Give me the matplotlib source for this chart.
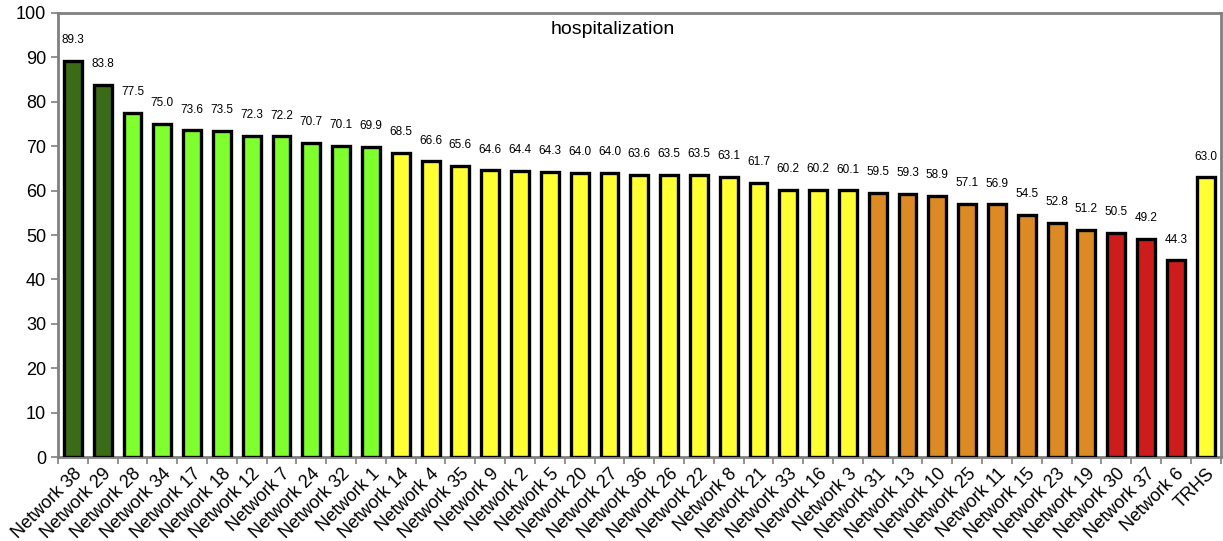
import matplotlib
matplotlib.use("Agg")
import matplotlib.pyplot as plt
import numpy as np

plt.rcParams['font.family'] = ['Liberation Sans', 'DejaVu Sans']

networks = ["Network 38", "Network 29", "Network 28", "Network 34", "Network 17",
            "Network 18", "Network 12", "Network 7", "Network 24", "Network 32",
            "Network 1", "Network 14", "Network 4", "Network 35", "Network 9",
            "Network 2", "Network 5", "Network 20", "Network 27", "Network 36",
            "Network 26", "Network 22", "Network 8", "Network 21", "Network 33",
            "Network 16", "Network 3", "Network 31", "Network 13", "Network 10",
            "Network 25", "Network 11", "Network 15", "Network 23", "Network 19",
            "Network 30", "Network 37", "Network 6", "TRHS"]
values = [89.3, 83.8, 77.5, 75.0, 73.6, 73.5, 72.3, 72.2, 70.7, 70.1,
          69.9, 68.5, 66.6, 65.6, 64.6, 64.4, 64.3, 64.0, 64.0, 63.6,
          63.5, 63.5, 63.1, 61.7, 60.2, 60.2, 60.1, 59.5, 59.3, 58.9,
          57.1, 56.9, 54.5, 52.8, 51.2, 50.5, 49.2, 44.3, 63.0]
groups = ["top"] * 2 + ["high"] * 9 + ["mid"] * 16 + ["low"] * 8 + ["bottom"] * 3 + ["mid"]

palette = {"top": "#3a6b16", "high": "#80ff2e", "mid": "#ffff33",
           "low": "#dc8a24", "bottom": "#cc1c1c"}

fig = plt.figure(figsize=(12.23, 5.41), dpi=100)
ax = fig.add_axes([0.0474, 0.155, 0.9506, 0.821])

x = np.arange(len(networks))
bars = ax.bar(x, values, width=0.6, color=[palette[g] for g in groups],
              edgecolor="black", linewidth=2.4, zorder=3)

for xi, v in zip(x, values):
    ax.text(xi, v + 3.3, f"{v:.1f}", ha="center", va="bottom", fontsize=8.5)

ax.set_xlim(-0.5, len(networks) - 0.5)
ax.set_ylim(0, 100)
ax.set_yticks(np.arange(0, 101, 10))
ax.tick_params(axis="y", labelsize=13, length=5, width=1.2, color="#808080", direction="out")

ax.set_xticks(x)
ax.set_xticklabels(networks, rotation=45, ha="right", rotation_mode="anchor", fontsize=13)
ax.tick_params(axis="x", which="major", length=0, pad=6)
ax.set_xticks(np.arange(-0.5, len(networks), 1.0), minor=True)
ax.tick_params(axis="x", which="minor", length=5, width=1.2, color="#808080", direction="out")

for side in ["left", "top", "right", "bottom"]:
    ax.spines[side].set_color("#808080")
    ax.spines[side].set_linewidth(2)

fig.text(0.501, 0.946, "hospitalization", ha="center", va="center", fontsize=14)

fig.savefig("out.png", dpi=100)
